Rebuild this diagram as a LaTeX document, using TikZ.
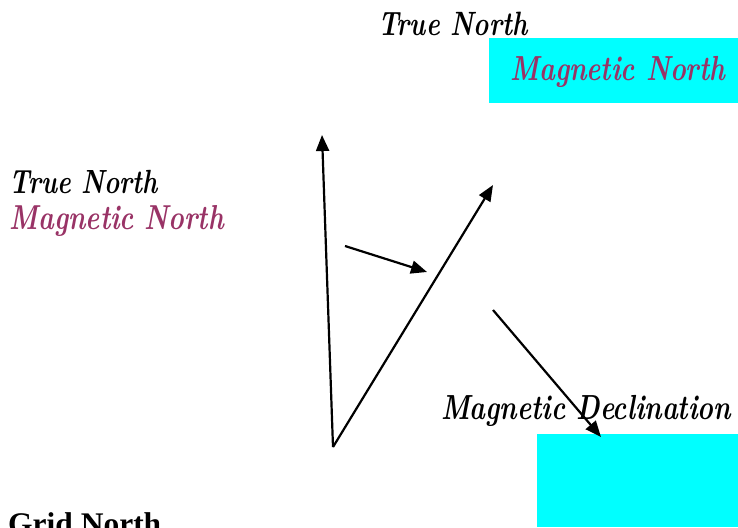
\documentclass[tikz,border=0pt]{standalone}
\usetikzlibrary{arrows.meta}
\usepackage{fontspec}
\newfontfamily\gridfont{Liberation Serif}
\definecolor{magn}{HTML}{993366}
\definecolor{cyanbox}{HTML}{00FFFF}
\newcommand{\fitlbl}[2]{\scalebox{1}[1.3]{\resizebox{#1}{!}{\bfseries\itshape #2}}}
\begin{document}
\begin{tikzpicture}[x=1pt,y=-1pt,
  lbl/.style={inner sep=0pt},
  arr/.style={line width=2.2pt,-{Triangle[length=16pt,width=13pt]}}]
\useasboundingbox (0,0) rectangle (738,527);
\begin{scope}
\clip (0,0) rectangle (738,527);
\fill[cyanbox] (489,38) rectangle (738,103);
\fill[cyanbox] (537,434) rectangle (738,527);
\node[lbl] (tn1) at (453,24) {\fitlbl{149pt}{True North}};
\node[lbl,text=magn] (mn1) at (618,72) {\fitlbl{215pt}{Magnetic North}};
\node[lbl] (tn2) at (84,182) {\fitlbl{148pt}{True North}};
\node[lbl,text=magn] (mn2) at (117,221) {\fitlbl{214pt}{Magnetic North}};
\node[lbl] (md) at (586,411) {\fitlbl{290pt}{Magnetic Declination}};
\node[inner sep=0pt,anchor=north west] (gn) at (8,512) {\resizebox{153pt}{!}{\gridfont\bfseries Grid North}};
\coordinate (o) at (333,447);
\coordinate (t1) at (322,135);
\coordinate (t2) at (493,185);
\coordinate (s3) at (345,246);
\coordinate (t3) at (427,272);
\coordinate (s4) at (493,310);
\coordinate (t4) at (601,437);
\draw[arr] (o) -- (t1);
\draw[arr] (o) -- (t2);
\draw[arr] (s3) -- (t3);
\draw[arr] (s4) -- (t4);
\end{scope}
\end{tikzpicture}
\end{document}
